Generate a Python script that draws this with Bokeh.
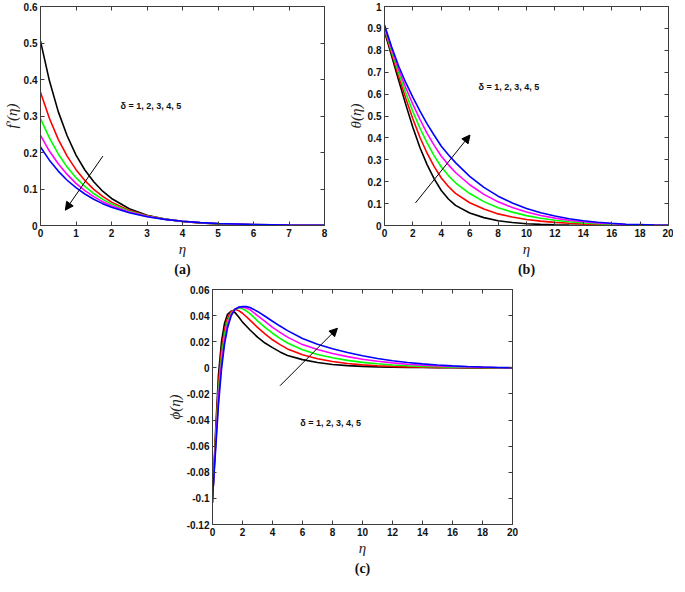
from bokeh.plotting import figure
from bokeh.layouts import column, row
from bokeh.models import (Range1d, FixedTicker, LinearAxis, Arrow, NormalHead, Title,
                          CustomJSTickFormatter, Spacer, Label)
from bokeh.embed import file_html
from bokeh.resources import INLINE

# ---------------- data ----------------
series_names = ["delta=1", "delta=2", "delta=3", "delta=4", "delta=5"]
line_colors = ["#000000", "#ff0000", "#00ff00", "#ff00ff", "#0000ff"]

# (a) f'(eta)
eta_a = [0, 0.25, 0.5, 0.75, 1, 1.25, 1.5, 1.75, 2, 2.5, 3, 3.5, 4, 4.5, 5, 6, 7, 8]
fp_d1 = [0.505, 0.397, 0.312, 0.246, 0.193, 0.152, 0.120, 0.094, 0.074, 0.046, 0.028, 0.0175, 0.0109, 0.0067, 0.0041, 0.0016, 0.0006, 0.0002]
fp_d2 = [0.365, 0.294, 0.236, 0.190, 0.153, 0.123, 0.099, 0.080, 0.064, 0.0415, 0.0268, 0.0174, 0.0112, 0.0073, 0.0047, 0.0020, 0.0008, 0.0003]
fp_d3 = [0.293, 0.240, 0.196, 0.160, 0.131, 0.107, 0.0876, 0.0716, 0.0586, 0.0391, 0.0262, 0.0175, 0.0117, 0.0078, 0.0052, 0.0023, 0.0010, 0.0005]
fp_d4 = [0.247, 0.204, 0.169, 0.140, 0.1155, 0.0955, 0.079, 0.0653, 0.054, 0.037, 0.0253, 0.0173, 0.0118, 0.0081, 0.0055, 0.0026, 0.0012, 0.0006]
fp_d5 = [0.215, 0.179, 0.149, 0.124, 0.1036, 0.0863, 0.0719, 0.0599, 0.0499, 0.0347, 0.0241, 0.0167, 0.0116, 0.0080, 0.0056, 0.0027, 0.0013, 0.0006]

# (b) theta(eta)
eta_b = [0, 0.5, 1, 1.5, 2, 2.5, 3, 3.5, 4, 4.5, 5, 6, 7, 8, 9, 10, 11, 12, 13, 14, 15, 16, 17, 18, 19, 20]
th_d1 = [0.885, 0.775, 0.662, 0.552, 0.447, 0.355, 0.278, 0.213, 0.160, 0.121, 0.092, 0.057, 0.036, 0.022, 0.0135, 0.0082, 0.005, 0.003, 0.0018, 0.0011, 0.0007, 0.0004, 0.0003, 0.0002, 0.0001, 0.0]
th_d2 = [0.893, 0.786, 0.680, 0.580, 0.486, 0.402, 0.330, 0.269, 0.217, 0.178, 0.147, 0.104, 0.075, 0.053, 0.0386, 0.0277, 0.0198, 0.0142, 0.0100, 0.0070, 0.0047, 0.0031, 0.0019, 0.0013, 0.0006, 0.0003]
th_d3 = [0.901, 0.797, 0.696, 0.605, 0.520, 0.444, 0.377, 0.318, 0.267, 0.228, 0.195, 0.146, 0.109, 0.081, 0.061, 0.0452, 0.0331, 0.0242, 0.0173, 0.0122, 0.0083, 0.0055, 0.0033, 0.0022, 0.0011, 0.0005]
th_d4 = [0.908, 0.807, 0.712, 0.629, 0.553, 0.484, 0.421, 0.366, 0.316, 0.277, 0.242, 0.186, 0.142, 0.108, 0.0824, 0.062, 0.0458, 0.0338, 0.0243, 0.0172, 0.0117, 0.0078, 0.0047, 0.0031, 0.0016, 0.0008]
th_d5 = [0.915, 0.816, 0.727, 0.652, 0.585, 0.522, 0.464, 0.412, 0.362, 0.323, 0.287, 0.224, 0.174, 0.134, 0.103, 0.078, 0.058, 0.043, 0.031, 0.022, 0.015, 0.010, 0.006, 0.004, 0.002, 0.001]

# (c) phi(eta)
eta_c = [0, 0.2, 0.4, 0.6, 0.8, 1, 1.25, 1.5, 1.75, 2, 2.25, 2.5, 3, 3.5, 4, 4.5, 5, 6, 7, 8, 9, 10, 11, 12, 13, 14, 15, 16, 17, 18, 19, 20]
ph_d1 = [-0.1035, -0.050, -0.005, 0.020, 0.034, 0.041, 0.0435, 0.0423, 0.0390, 0.0350, 0.0320, 0.0290, 0.0235, 0.0190, 0.0155, 0.0122, 0.0095, 0.0063, 0.0041, 0.0026, 0.0017, 0.0011, 0.0007, 0.0004, 0.0003, 0.0002, 0.0001, 0.0001, 0, 0, 0, 0]
ph_d2 = [-0.1025, -0.054, -0.012, 0.014, 0.029, 0.038, 0.0432, 0.0448, 0.0438, 0.0418, 0.0393, 0.0365, 0.031, 0.026, 0.0215, 0.0178, 0.0145, 0.0100, 0.0069, 0.0048, 0.0033, 0.0023, 0.0016, 0.0011, 0.0007, 0.0005, 0.0003, 0.0002, 0.0001, 0.0001, 0, 0]
ph_d3 = [-0.1015, -0.058, -0.018, 0.008, 0.025, 0.0355, 0.0420, 0.0450, 0.0458, 0.0452, 0.0437, 0.0415, 0.036, 0.031, 0.0265, 0.0226, 0.0190, 0.0138, 0.0102, 0.0077, 0.0057, 0.0042, 0.0031, 0.0022, 0.0016, 0.0011, 0.0008, 0.0005, 0.0003, 0.0002, 0.0001, 0]
ph_d4 = [-0.1005, -0.061, -0.023, 0.004, 0.021, 0.033, 0.0410, 0.0450, 0.0463, 0.0465, 0.0458, 0.0445, 0.040, 0.0355, 0.031, 0.0272, 0.0235, 0.0178, 0.0140, 0.0110, 0.0086, 0.0066, 0.0050, 0.0038, 0.0028, 0.0020, 0.0014, 0.0010, 0.0006, 0.0004, 0.0002, 0.0001]
ph_d5 = [-0.0998, -0.064, -0.028, -0.001, 0.018, 0.0305, 0.0400, 0.0448, 0.0465, 0.0470, 0.0469, 0.0462, 0.0432, 0.0395, 0.0357, 0.032, 0.0285, 0.0225, 0.0180, 0.0146, 0.0117, 0.0092, 0.0071, 0.0054, 0.0041, 0.0030, 0.0022, 0.0015, 0.0010, 0.0006, 0.0003, 0.0001]

x_ticks_a = [0, 1, 2, 3, 4, 5, 6, 7, 8]
y_ticks_a = [0, 0.1, 0.2, 0.3, 0.4, 0.5, 0.6]
x_ticks_b = [0, 2, 4, 6, 8, 10, 12, 14, 16, 18, 20]
y_ticks_b = [0, 0.1, 0.2, 0.3, 0.4, 0.5, 0.6, 0.7, 0.8, 0.9, 1.0]
x_ticks_c = [0, 2, 4, 6, 8, 10, 12, 14, 16, 18, 20]
y_ticks_c = [-0.12, -0.1, -0.08, -0.06, -0.04, -0.02, 0, 0.02, 0.04, 0.06]

param_text = "δ = 1, 2, 3, 4, 5"

AX_COLOR = "#3c3c3c"
fmt_code = "return String(Math.round(tick*1000)/1000);"


def style_axis(ax, ticks, labelled):
    ax.ticker = FixedTicker(ticks=ticks)
    ax.axis_line_color = AX_COLOR
    ax.axis_line_width = 1
    ax.major_tick_line_color = AX_COLOR
    ax.major_tick_in = 4
    ax.major_tick_out = 0
    ax.minor_tick_line_color = None
    if labelled:
        ax.formatter = CustomJSTickFormatter(code=fmt_code)
        ax.major_label_text_font = "Liberation Sans"
        ax.major_label_text_font_style = "bold"
        ax.major_label_text_font_size = "10px"
        ax.major_label_text_color = "#111111"
        ax.major_label_standoff = 3
        ax.axis_label_text_font = "Liberation Serif"
        ax.axis_label_text_font_style = "italic"
        ax.axis_label_text_font_size = "15px"
        ax.axis_label_text_color = "#222222"
        ax.axis_label_standoff = 1
    else:
        ax.major_label_text_font_size = "1px"
        ax.major_label_text_color = None
        ax.major_label_standoff = 0


def make_panel(frame, borders, xr, yr, xt, yt, eta, curves, ylabel, tag,
               arrow_pts, text_pos):
    fw, fh = frame
    bl, br, bt, bb = borders
    p = figure(frame_width=fw, frame_height=fh, output_backend="svg", toolbar_location=None,
               x_range=Range1d(*xr), y_range=Range1d(*yr),
               min_border_left=bl, min_border_right=br, min_border_top=bt,
               min_border_bottom=bb, x_axis_label="η", y_axis_label=ylabel)
    p.grid.visible = False
    p.outline_line_color = AX_COLOR
    p.background_fill_color = "white"
    p.border_fill_color = "white"
    style_axis(p.xaxis[0], xt, True)
    style_axis(p.yaxis[0], yt, True)
    ax_r = LinearAxis()
    style_axis(ax_r, yt, False)
    p.add_layout(ax_r, "right")
    ax_t = LinearAxis()
    style_axis(ax_t, xt, False)
    p.add_layout(ax_t, "above")
    for ys, c, n in zip(curves, line_colors, series_names):
        p.line(eta, ys, line_color=c, line_width=1.6, name=n)
    (x0, y0), (x1, y1) = arrow_pts
    p.add_layout(Arrow(end=NormalHead(size=8, fill_color="black", line_color="black", line_width=1),
                       x_start=x0, y_start=y0, x_end=x1, y_end=y1,
                       line_color="black", line_width=1))
    p.add_layout(Label(x=text_pos[0], y=text_pos[1], text=param_text,
                       text_align="center", text_baseline="middle",
                       text_font="Liberation Sans", text_font_style="bold",
                       text_font_size="9px", text_color="#111111"))
    p.add_layout(Title(text=tag, align="center", text_font="Liberation Serif",
                       text_font_style="bold", text_font_size="14px",
                       text_color="#111111", standoff=1), "below")
    return p


pa = make_panel((284, 219), (36, 18, 6, 55), (0, 8), (0, 0.6), x_ticks_a, y_ticks_a, eta_a,
                [fp_d1, fp_d2, fp_d3, fp_d4, fp_d5], "f'(η)", "(a)",
                ((1.757, 0.19), (0.70, 0.042)), (3.11, 0.328))
pb = make_panel((284, 219), (42, 5, 6, 55), (0, 20), (0, 1), x_ticks_b, y_ticks_b, eta_b,
                [th_d1, th_d2, th_d3, th_d4, th_d5], "θ(η)", "(b)",
                ((2.18, 0.103), (6.02, 0.413)), (8.76, 0.634))
pc = make_panel((300, 235), (54, 20, 9, 52), (0, 20), (-0.12, 0.06), x_ticks_c, y_ticks_c, eta_c,
                [ph_d1, ph_d2, ph_d3, ph_d4, ph_d5], "ϕ(η)", "(c)",
                ((4.5, -0.0137), (8.33, 0.0303)), (7.87, -0.0423))

layout = column(row(pa, pb, spacing=0), row(Spacer(width=158, height=10), pc, spacing=0), spacing=0)

open("out.html", "w").write(file_html(layout, INLINE))
